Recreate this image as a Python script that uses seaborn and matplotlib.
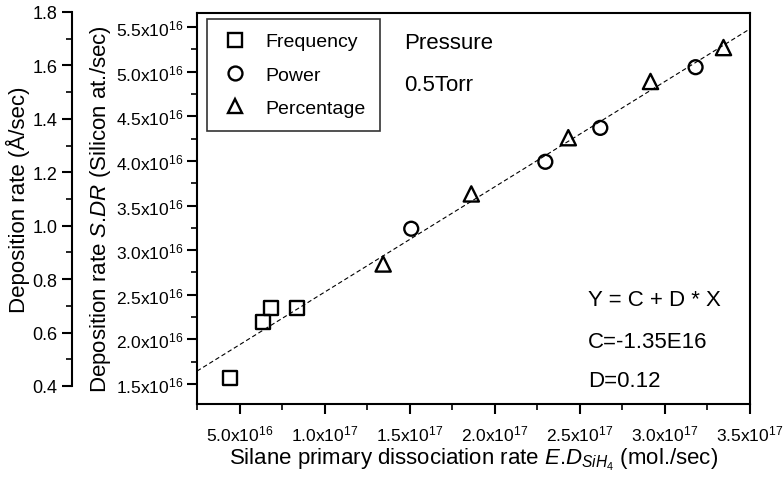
import matplotlib
matplotlib.use("Agg")
import matplotlib.pyplot as plt
from matplotlib.lines import Line2D
from matplotlib.ticker import MultipleLocator, FuncFormatter
import numpy as np
import pandas as pd
import seaborn as sns

# data (x: mol./sec, y: Silicon at./sec)
freq_x = [4.44e16, 6.38e16, 6.85e16, 8.38e16]
freq_y = [1.567e16, 2.195e16, 2.352e16, 2.352e16]
power_x = [1.509e17, 2.297e17, 2.62e17, 3.18e17]
power_y = [3.24e16, 3.99e16, 4.37e16, 5.05e16]
perc_x = [1.344e17, 1.862e17, 2.432e17, 2.915e17, 3.344e17]
perc_y = [2.845e16, 3.63e16, 4.26e16, 4.89e16, 5.27e16]
series = ["Frequency", "Power", "Percentage"]

# linear fit drawn in the figure
fit_c = 1.35e16
fit_d = 0.118

df = pd.DataFrame({
    "x": freq_x + power_x + perc_x,
    "y": freq_y + power_y + perc_y,
    "set": ["Frequency"] * len(freq_x) + ["Power"] * len(power_x) + ["Percentage"] * len(perc_x),
})

sns.set_style("ticks")
plt.rcParams["font.family"] = ["Liberation Sans", "DejaVu Sans"]
plt.rcParams["mathtext.fontset"] = "custom"
plt.rcParams["mathtext.rm"] = "Liberation Sans"
plt.rcParams["mathtext.it"] = "Liberation Sans:italic"
for k in ["text.color", "axes.labelcolor", "xtick.color", "ytick.color", "axes.edgecolor"]:
    plt.rcParams[k] = "black"

fig = plt.figure(figsize=(7.83, 4.85), dpi=100)
ax = fig.add_axes([0.2516, 0.1649, 0.7063, 0.8062])

markers = {"Frequency": "s", "Power": "o", "Percentage": "^"}
sizes = {"Frequency": 95, "Power": 100, "Percentage": 120}
for name in series:
    sub = df[df["set"] == name]
    sns.scatterplot(data=sub, x="x", y="y", marker=markers[name], s=sizes[name],
                    ax=ax, legend=False, zorder=3)
for coll in ax.collections:
    coll.set_facecolor("none")
    coll.set_edgecolor("black")
    coll.set_linewidth(1.7)

xmin, xmax = 2.5e16, 3.5e17
xs = np.array([xmin, xmax])
sns.lineplot(x=xs, y=fit_c + fit_d * xs, ax=ax, color="black", lw=0.8,
             linestyle=(0, (4, 2.5)), zorder=2)

ax.set_xlim(xmin, xmax)
ax.set_ylim(1.276e16, 5.657e16)


def sci(v, pos):
    if v <= 0:
        return ""
    e = int(np.floor(np.log10(v) + 1e-9))
    m = v / 10 ** e
    return "%.1fx10$^{%d}$" % (m, e)


ax.xaxis.set_major_locator(MultipleLocator(5e16))
ax.xaxis.set_minor_locator(MultipleLocator(2.5e16))
ax.yaxis.set_major_locator(MultipleLocator(0.5e16))
ax.yaxis.set_minor_locator(MultipleLocator(0.25e16))
ax.xaxis.set_major_formatter(FuncFormatter(sci))
ax.yaxis.set_major_formatter(FuncFormatter(sci))
ax.tick_params(which="major", direction="out", length=7, width=1.5, labelsize=12.5)
ax.tick_params(which="minor", direction="out", length=4, width=1.2)
ax.tick_params(axis="x", pad=7)
ax.tick_params(axis="y", pad=3)
for s in ax.spines.values():
    s.set_linewidth(1.5)

ax.set_xlabel(r"Silane primary dissociation rate $\mathit{E}$.$\mathit{D}_{\mathit{SiH_4}}$ (mol./sec)",
              fontsize=16, labelpad=2)
ax.set_ylabel(r"Deposition rate $\mathit{S}$.$\mathit{DR}$ (Silicon at./sec)", fontsize=16, labelpad=2)

handles = [Line2D([], [], marker=markers[n], ls="none", mfc="none", mec="black",
                  mew=1.7, ms=10) for n in series]
leg = ax.legend(handles, series, loc="upper left", bbox_to_anchor=(0.018, 0.985),
                borderaxespad=0, fontsize=14, frameon=True, fancybox=False,
                handlelength=1.4, handletextpad=0.9, labelspacing=0.8,
                borderpad=0.72)
leg.get_frame().set_edgecolor("black")
leg.get_frame().set_linewidth(1.2)

ax.text(0.375, 0.925, "Pressure", transform=ax.transAxes, fontsize=16, va="center")
ax.text(0.375, 0.817, "0.5Torr", transform=ax.transAxes, fontsize=16, va="center")
ax.text(0.707, 0.268, "Y = C + D * X", transform=ax.transAxes, fontsize=16, va="center")
ax.text(0.707, 0.161, "C=-1.35E16", transform=ax.transAxes, fontsize=16, va="center")
ax.text(0.707, 0.059, "D=0.12", transform=ax.transAxes, fontsize=16, va="center")

# outer axis in Å/sec
ax2 = fig.add_axes([0.092, 0.2021, 0.0001, 0.7711])
ax2.set_ylim(0.4, 1.8)
ax2.set_xticks([])
for side in ["top", "right", "bottom"]:
    ax2.spines[side].set_visible(False)
ax2.spines["left"].set_linewidth(1.5)
ax2.patch.set_alpha(0)
ax2.yaxis.set_major_locator(MultipleLocator(0.2))
ax2.yaxis.set_minor_locator(MultipleLocator(0.1))
ax2.yaxis.set_major_formatter(FuncFormatter(lambda v, p: "%.1f" % v))
ax2.tick_params(which="major", direction="out", length=7, width=1.5, labelsize=13)
ax2.tick_params(which="minor", direction="out", length=4, width=1.2)
ax2.set_ylabel("Deposition rate (Å/sec)", fontsize=16, labelpad=2)

fig.savefig("out.png", dpi=100)
